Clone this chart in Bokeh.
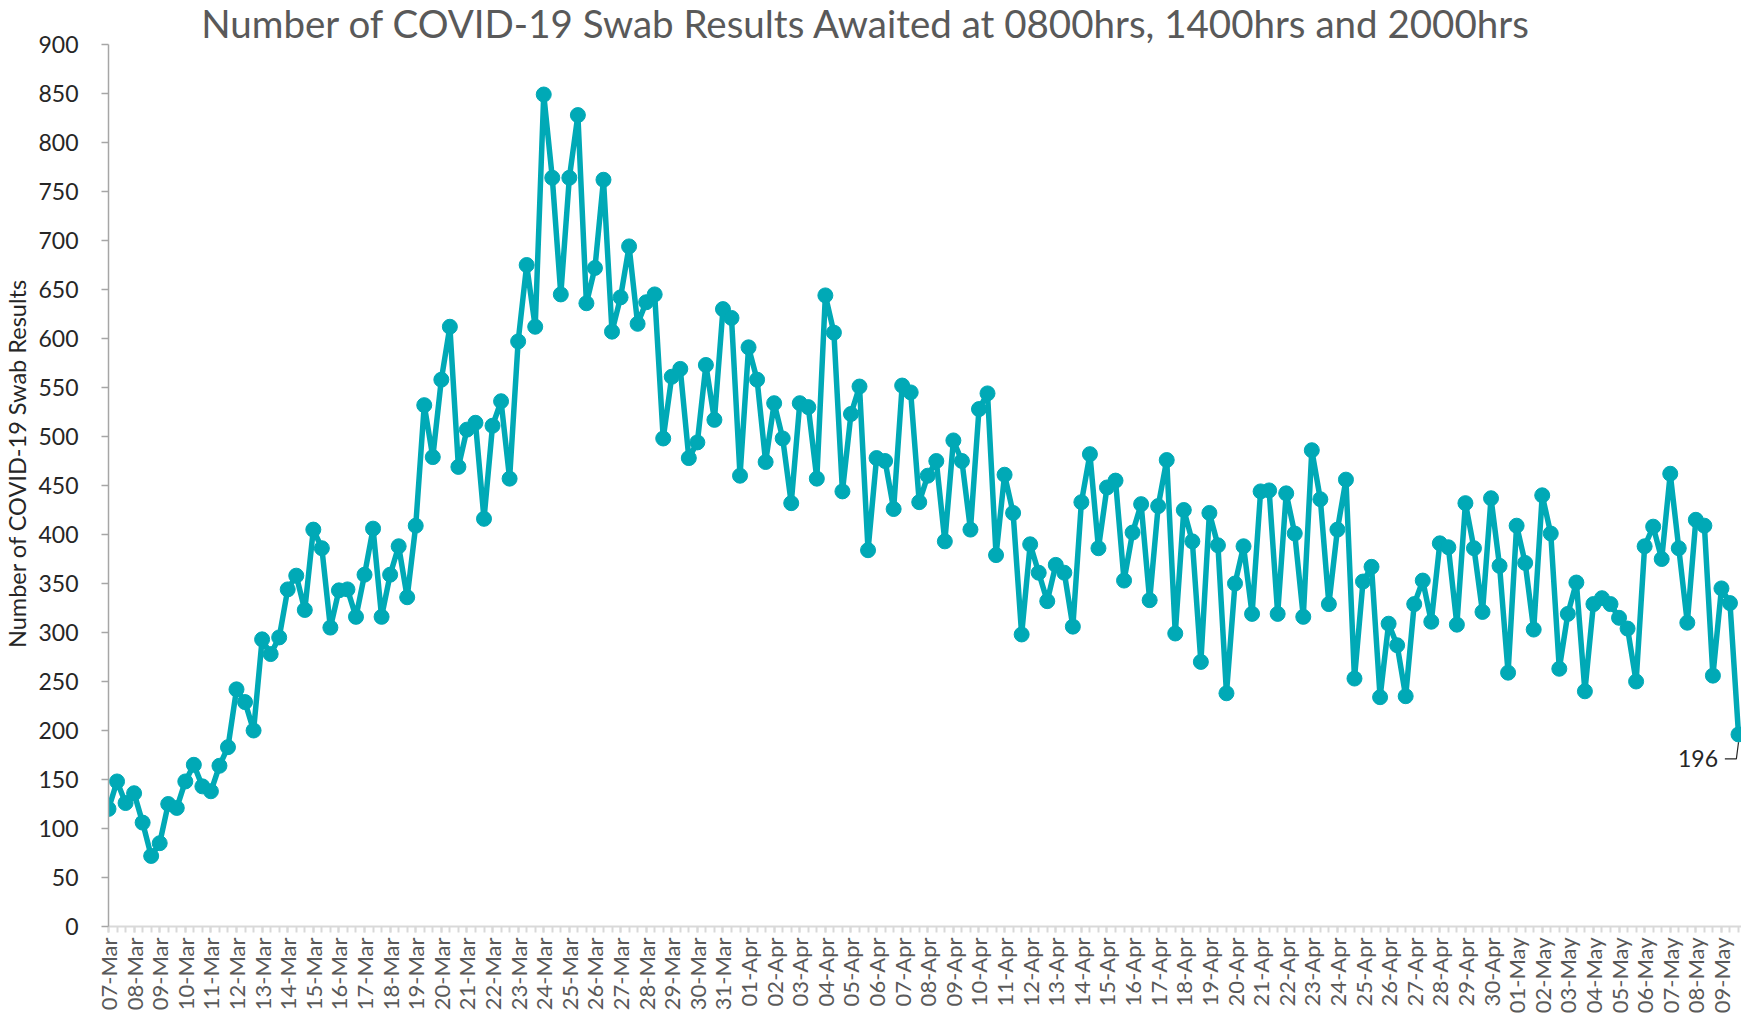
import numpy as np
from bokeh.plotting import figure
from bokeh.models import Range1d, FixedTicker, Label
from bokeh.core.properties import value
from bokeh.embed import file_html
from bokeh.resources import INLINE

# ---- data -------------------------------------------------------------
days = ([f"{d:02d}-Mar" for d in range(7, 32)] +
        [f"{d:02d}-Apr" for d in range(1, 31)] +
        [f"{d:02d}-May" for d in range(1, 10)])

at_0800 = [120, 136, 85, 148, 138, 242, 293, 344, 405, 343, 359, 359, 409, 558, 507, 511,
           597, 849, 764, 672, 642, 637, 561, 494, 630, 591, 534, 534, 644, 523, 478, 552,
           460, 496, 528, 461, 390, 369, 433, 448, 402, 429, 425, 422, 350, 444, 442, 486,
           405, 352, 309, 329, 391, 432, 437, 409, 440, 319, 329, 315, 388, 462, 415, 345]
at_1400 = [148, 106, 125, 165, 164, 229, 278, 358, 386, 344, 406, 388, 532, 612, 514, 536,
           675, 764, 828, 762, 694, 645, 569, 573, 621, 558, 498, 530, 606, 551, 475, 545,
           475, 475, 544, 422, 361, 361, 482, 455, 431, 476, 393, 389, 388, 445, 401, 436,
           456, 367, 287, 353, 387, 386, 368, 371, 401, 351, 335, 304, 408, 386, 409, 330]
at_2000 = [126, 72, 121, 143, 183, 200, 295, 323, 305, 316, 316, 336, 479, 469, 416, 457,
           612, 645, 636, 607, 615, 498, 478, 517, 460, 474, 432, 457, 444, 384, 426, 433,
           393, 405, 379, 298, 332, 306, 386, 353, 333, 299, 270, 238, 319, 319, 316, 329,
           253, 234, 235, 311, 308, 321, 259, 303, 263, 240, 329, 250, 375, 310, 256, 196]

y_ticks = list(range(0, 901, 50))

title_text = "Number of COVID-19 Swab Results Awaited at 0800hrs, 1400hrs and 2000hrs"
y_label = "Number of COVID-19 Swab Results"

# interleave the three daily readings into one time series
values = []
for a, b, c in zip(at_0800, at_1400, at_2000):
    values += [a, b, c]
xs = list(range(len(values)))
n = len(values)

TEAL = "#00A9B6"
FONT = "Lato"

px_per_unit = 881.5 / 900.0
y_top = 925.5 / px_per_unit
p = figure(width=1741, height=1018, output_backend="svg", toolbar_location=None,
           x_range=Range1d(0, n - 1 + 0.35), y_range=Range1d(0, y_top),
           min_border_left=106, min_border_right=0, min_border_top=0,
           min_border_bottom=92)
p.outline_line_color = None
p.xgrid.grid_line_color = None
p.ygrid.grid_line_color = None
p.background_fill_color = "white"
p.border_fill_color = "white"

p.line(xs, values, line_color=TEAL, line_width=5.5, line_join="round")
p.scatter(xs, values, size=15, fill_color=TEAL, line_color=TEAL)

# y axis
yax = p.yaxis[0]
yax.ticker = FixedTicker(ticks=y_ticks)
yax.bounds = (0, 900)
yax.axis_line_color = "#A6A6A6"
yax.axis_line_width = 1.5
yax.major_tick_line_color = "#A6A6A6"
yax.major_tick_line_width = 1.5
yax.major_tick_out = 7
yax.major_tick_in = 0
yax.minor_tick_line_color = None
yax.major_label_text_font = FONT
yax.major_label_text_font_size = "23px"
yax.major_label_text_color = "#262626"
yax.major_label_standoff = 23
yax.axis_label = y_label
yax.axis_label_text_font = FONT
yax.axis_label_text_font_size = "23.5px"
yax.axis_label_text_font_style = "normal"
yax.axis_label_text_color = "#262626"
yax.axis_label_standoff = 4

# x axis: a tick at every reading, a label at the first reading of each day
xax = p.xaxis[0]
day_ticks = [3 * i for i in range(len(days))]
xax.ticker = FixedTicker(ticks=day_ticks, minor_ticks=xs)
xax.major_label_overrides = {t: d for t, d in zip(day_ticks, days)}
xax.major_label_orientation = np.pi / 2
xax.major_label_text_font = FONT
xax.major_label_text_font_size = "22px"
xax.major_label_text_color = "#595959"
xax.major_label_standoff = 5
xax.axis_line_color = "#D9D9D9"
xax.axis_line_width = 2
xax.major_tick_line_color = "#D9D9D9"
xax.minor_tick_line_color = "#D9D9D9"
xax.major_tick_line_width = 2
xax.minor_tick_line_width = 2
xax.major_tick_out = 6
xax.minor_tick_out = 6
xax.major_tick_in = 0
xax.minor_tick_in = 0

# title
p.add_layout(Label(x=(n - 1) * 0.465, y=y_top - 22 / px_per_unit, text=title_text,
                   text_align="center", text_baseline="alphabetic",
                   text_font=FONT, text_font_size="38.5px", text_color="#595959"))

# data label for the last reading, with its leader line
last_x, last_y = xs[-1], values[-1]
p.line([last_x - 1.6, last_x - 0.25, last_x], [last_y - 25, last_y - 25, last_y - 8],
       line_color="#262626", line_width=1.2)
p.add_layout(Label(x=last_x - 2.4, y=last_y - 25, text=str(last_y),
                   text_align="right", text_baseline="middle",
                   text_font=FONT, text_font_size="23px", text_color="#262626"))

open("out.html", "w").write(file_html(p, INLINE))
